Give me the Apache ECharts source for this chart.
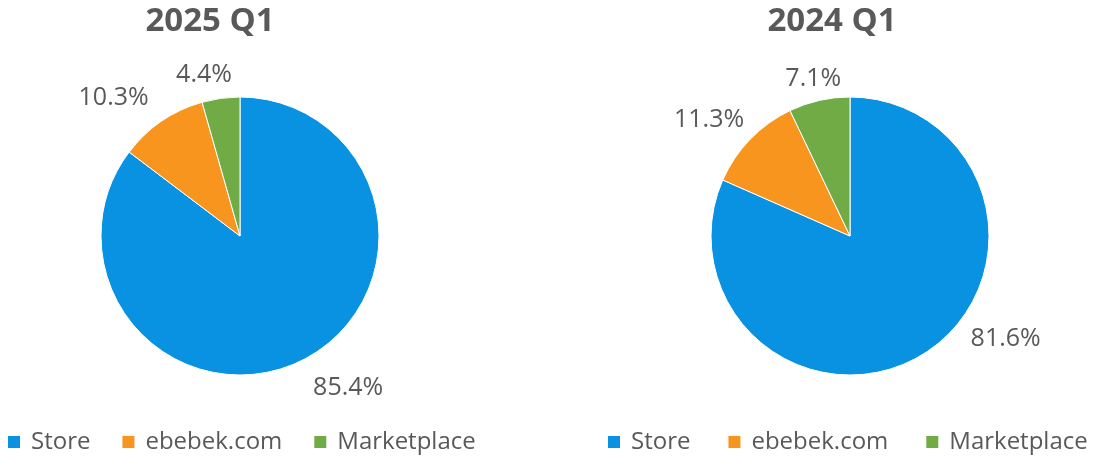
<!DOCTYPE html>
<html>
<head>
<meta charset="utf-8">
<script src="https://cdn.jsdelivr.net/npm/echarts@6/dist/echarts.min.js"></script>
<style>
  html, body { margin: 0; padding: 0; background: #fff; }
  #chart { width: 1111px; height: 457px; }
</style>
</head>
<body>
<div id="chart"></div>
<script>
  // data
  const categories = ['Store', 'ebebek.com', 'Marketplace']
  const titles = ['2025 Q1', '2024 Q1']
  const values2025 = [85.4, 10.3, 4.4]
  const values2024 = [81.6, 11.3, 7.1]
  const colorList = ['#0892E1', '#F7951F', '#70AB46']

  // nudge of the outside labels (Excel "best fit" placement)
  const labelShift = [
    [[-6, 15], [6, -12], [24, -10]],
    [[26, -25], [15, -10], [36, -8]]
  ]

  const textColor = '#595959'
  const font = '"Open Sans", "Noto Sans", sans-serif'

  let myChart = echarts.init(document.getElementById('chart'))

  function makePie(values, center, k) {
    return {
      type: 'pie',
      radius: 139,
      center: center,
      startAngle: 90,
      clockwise: true,
      avoidLabelOverlap: false,
      data: categories.map((name, i) => ({ name: name, value: values[i] })),
      itemStyle: { borderColor: '#fff', borderWidth: 1 },
      label: {
        show: true,
        position: 'outside',
        formatter: p => p.value.toFixed(1) + '%',
        color: textColor,
        fontFamily: font,
        fontSize: 25
      },
      labelLine: { show: false, length: 14, length2: 6 },
      labelLayout: p => ({ dx: labelShift[k][p.dataIndex][0], dy: labelShift[k][p.dataIndex][1] }),
      emphasis: { disabled: true }
    }
  }

  function makeLegend(left, gap) {
    return {
      data: categories,
      left: left,
      top: 425,
      icon: 'rect',
      itemWidth: 14,
      itemHeight: 14,
      itemGap: gap,
      textStyle: { color: textColor, fontFamily: font, fontSize: 24, padding: [0, 0, 0, 5] }
    }
  }

  let option = {
    color: colorList,
    animation: false,
    title: [
      { text: titles[0], left: 205, top: 0, textAlign: 'center',
        textStyle: { color: textColor, fontFamily: font, fontSize: 33, fontWeight: 'bold' } },
      { text: titles[1], left: 827, top: 0, textAlign: 'center',
        textStyle: { color: textColor, fontFamily: font, fontSize: 33, fontWeight: 'bold' } }
    ],
    legend: [makeLegend(1, 30), makeLegend(601, 36)],
    series: [
      makePie(values2025, [240, 236], 0),
      makePie(values2024, [850, 236], 1)
    ]
  }
  myChart.setOption(option)
</script>
</body>
</html>
